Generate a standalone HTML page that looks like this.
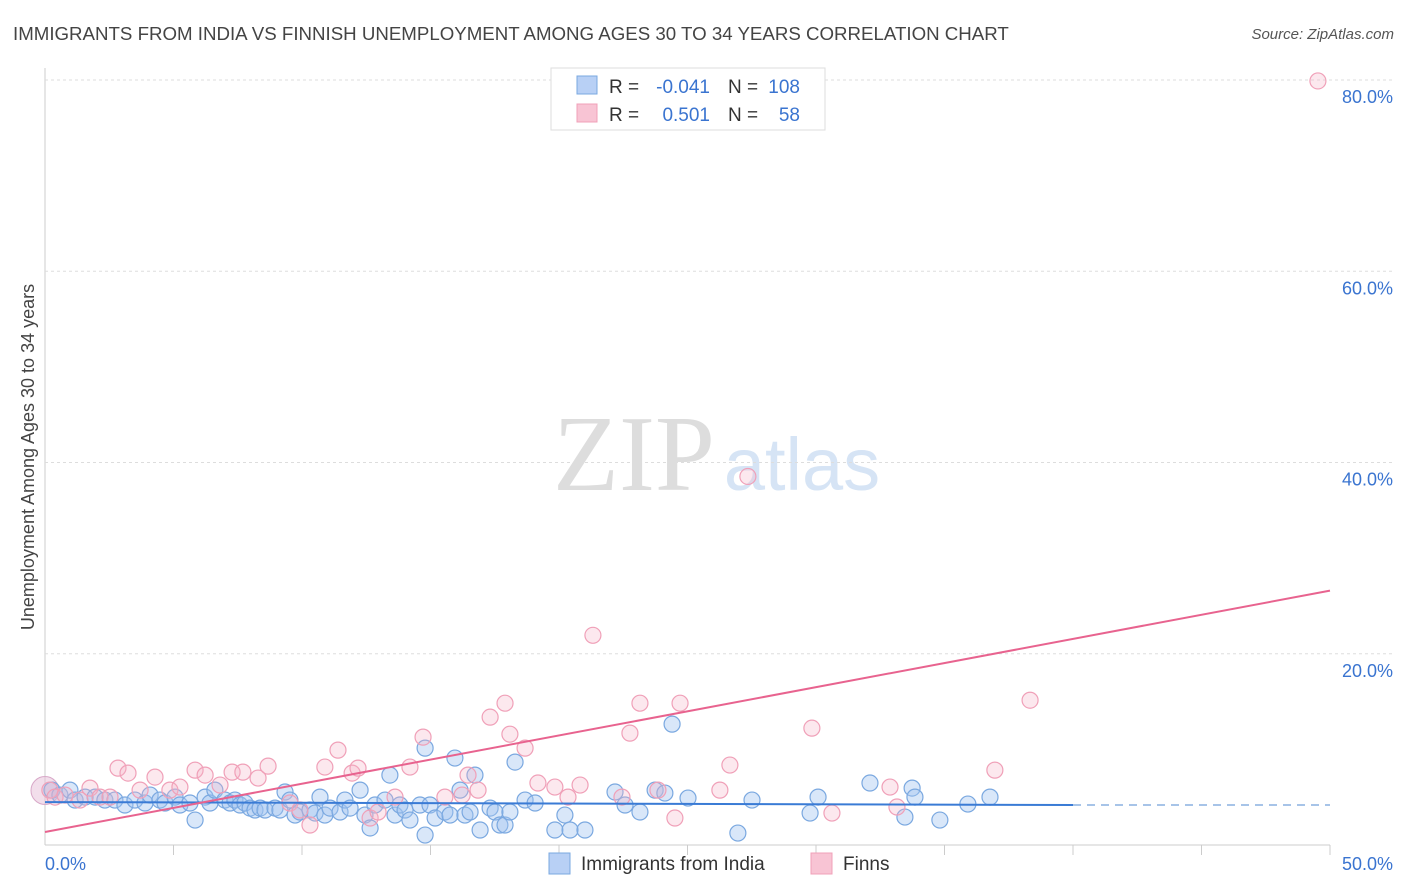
<!DOCTYPE html>
<html><head><meta charset="utf-8">
<style>
body{margin:0;background:#fff;font-family:"Liberation Sans",sans-serif;}
svg{display:block}
</style></head>
<body>
<svg id="chart" width="1406" height="892">
<text x="13" y="40" font-size="18.7" fill="#444">IMMIGRANTS FROM INDIA VS FINNISH UNEMPLOYMENT AMONG AGES 30 TO 34 YEARS CORRELATION CHART</text>
<text x="1394" y="39" font-size="15" fill="#555" font-style="italic" text-anchor="end">Source: ZipAtlas.com</text>
<text x="634" y="490" font-size="108" fill="#ddd" font-family="Liberation Serif,serif" text-anchor="middle">ZIP</text>
<text x="802" y="490" font-size="74" fill="#d6e4f5" text-anchor="middle">atlas</text>
<text transform="translate(34,457) rotate(-90)" font-size="18" fill="#444" text-anchor="middle">Unemployment Among Ages 30 to 34 years</text>
<g id="grid"></g>
<g id="marks"></g>
<g>
<rect x="551" y="68" width="274" height="62" fill="#fff" stroke="#ddd"/>
<rect x="577" y="76" width="20" height="18" fill="#b8d0f5" stroke="#7aa8e0"/>
<text x="609" y="93" font-size="19" fill="#333">R = </text><text x="710" y="93" font-size="19" fill="#3a74d0" text-anchor="end">-0.041</text>
<text x="728" y="93" font-size="19" fill="#333">N = </text><text x="800" y="93" font-size="19" fill="#3a74d0" text-anchor="end">108</text>
<rect x="577" y="104" width="20" height="18" fill="#f8c4d4" stroke="#f0a0b8"/>
<text x="609" y="121" font-size="19" fill="#333">R = </text><text x="710" y="121" font-size="19" fill="#3a74d0" text-anchor="end">0.501</text>
<text x="728" y="121" font-size="19" fill="#333">N = </text><text x="800" y="121" font-size="19" fill="#3a74d0" text-anchor="end">58</text>
</g>
<g>
<rect x="549" y="853" width="21" height="21" fill="#b8d0f5" stroke="#7aa8e0"/>
<text x="581" y="870" font-size="19" fill="#333">Immigrants from India</text>
<rect x="811" y="853" width="21" height="21" fill="#f8c4d4" stroke="#f0a0b8"/>
<text x="843" y="870" font-size="19" fill="#333">Finns</text>
</g>
</svg>
<script>
const xTicks=[0,5,10,15,20,25,30,35,40,45,50];
const yTicks=[20,40,60,80];
const yTickLabels=["20.0%","40.0%","60.0%","80.0%"];
const xEndLabels=["0.0%","50.0%"];
const indiaX=[0.27,0.58,0.97,1.17,1.56,1.95,2.33,2.72,3.11,3.50,3.89,4.09,4.47,4.67,5.06,5.25,5.64,5.84,6.23,6.42,6.61,7.00,7.20,7.39,7.59,7.78,7.98,8.17,8.37,8.56,8.95,9.14,9.34,9.53,9.73,9.92,10.31,10.51,10.70,10.89,11.09,11.48,11.67,11.87,12.26,12.45,12.65,12.84,13.23,13.42,13.62,13.81,14.01,14.20,14.59,14.79,14.79,14.98,15.18,15.56,15.76,15.95,16.15,16.34,16.54,16.73,16.93,17.32,17.51,17.70,17.90,18.09,18.29,18.68,19.07,19.84,20.23,20.43,21.01,22.18,22.57,23.15,23.74,24.12,24.40,25.02,26.96,27.51,29.77,30.08,32.10,33.46,33.74,33.85,34.82,35.91,36.77];
const indiaY=[5.74,5.22,5.74,4.70,5.01,5.01,4.70,4.70,4.18,4.70,4.39,5.22,4.70,4.39,5.01,4.18,4.39,2.61,5.01,4.39,5.74,4.70,4.39,4.70,4.18,4.39,3.86,3.66,3.86,3.66,3.86,3.66,5.54,4.70,3.13,3.45,3.66,3.34,5.01,3.13,3.86,3.45,4.70,3.86,5.74,3.13,1.78,4.18,4.70,7.31,3.13,4.18,3.66,2.61,4.18,1.04,10.13,4.18,2.82,3.45,3.13,9.09,5.74,3.13,3.45,7.31,1.57,3.86,3.45,2.09,2.09,3.45,8.67,4.70,4.39,1.57,3.13,1.57,1.57,5.54,4.18,3.45,5.74,5.43,12.64,4.91,1.25,4.70,3.34,5.01,6.48,2.92,5.95,5.01,2.61,4.28,5.01];
const finnsX=[0.19,0.39,0.78,1.36,1.75,2.14,2.53,2.84,3.23,3.70,4.28,4.86,5.25,5.84,6.23,6.81,7.28,7.70,8.29,8.68,9.53,9.92,10.31,10.89,11.40,11.95,12.18,12.65,12.96,13.62,14.20,14.71,15.56,16.23,16.46,16.85,17.32,17.90,18.09,18.68,19.18,19.84,20.35,20.82,21.32,22.45,22.76,23.15,23.85,24.71,24.51,26.26,26.65,27.35,29.84,30.62,32.88,33.15,36.96,38.33,49.53];
const finnsY=[5.74,5.01,5.22,4.70,5.95,5.01,5.01,8.04,7.52,5.74,7.10,5.74,6.06,7.83,7.31,6.27,7.62,7.62,7.00,8.25,4.39,3.66,2.09,8.15,9.92,7.52,8.04,2.82,3.45,5.01,8.15,11.28,5.01,5.22,7.31,5.74,13.37,14.83,11.59,10.13,6.48,6.06,5.01,6.27,21.93,5.01,11.70,14.83,5.74,14.83,2.82,5.74,8.36,38.54,12.22,3.34,6.06,3.97,7.83,15.14,79.90];
const indiaTrend=[[0,4.49],[40,4.18]];
const indiaTrendExt=[[40,4.18],[50,4.18]];
const finnsTrend=[[0,1.36],[50,26.6]];
const NS="http://www.w3.org/2000/svg";
const X0=45,X1=1330,Y0=845,Y80=80;
const sx=v=>X0+(X1-X0)*v/50;
const sy=v=>Y0-(Y0-Y80)*v/80;
function mk(tag,attrs,parent){const e=document.createElementNS(NS,tag);for(const k in attrs)e.setAttribute(k,attrs[k]);parent.appendChild(e);return e;}
const grid=document.getElementById('grid'),marks=document.getElementById('marks');
let ax=mk('line',{x1:X0,y1:68,x2:X0,y2:Y0,stroke:'#ccc'},grid);


let bx=mk('line',{x1:X0,y1:Y0,x2:X1,y2:Y0,stroke:'#ccc'},grid);


yTicks.forEach((t,i)=>{
 const g=mk('line',{x1:X0,y1:sy(t),x2:1395,y2:sy(t),stroke:'#ddd','stroke-dasharray':'3,3'},grid);
 
 
 const tx=mk('text',{x:1393,y:sy(t)+23,'font-size':18,fill:'#3a74d0','text-anchor':'end'},grid);
 tx.textContent=yTickLabels[i];
 
 
});
xTicks.forEach(t=>{
 if(t===0)return;
 const l=mk('line',{x1:sx(t),y1:Y0,x2:sx(t),y2:Y0+10,stroke:'#ccc'},grid);
 
 
});
[[0,45,'start'],[50,1393,'end']].forEach((d,i)=>{
 const tx=mk('text',{x:d[1],y:870,'font-size':18,fill:'#3a74d0','text-anchor':d[2]},grid);
 tx.textContent=xEndLabels[i];
 
 
});
const big=mk('circle',{cx:sx(0),cy:sy(5.7),r:14,fill:'rgba(230,190,215,0.5)',stroke:'#d8a8c8'},marks);


indiaX.forEach((x,i)=>{
 const c=mk('circle',{cx:sx(x),cy:sy(indiaY[i]),r:8,fill:'rgba(160,195,240,0.4)',stroke:'#7aa8e0','stroke-width':1.2},marks);
 
 
});
finnsX.forEach((x,i)=>{
 const c=mk('circle',{cx:sx(x),cy:sy(finnsY[i]),r:8,fill:'rgba(245,180,200,0.3)',stroke:'#f0a0b8','stroke-width':1.2},marks);
 
 
});
let t1=mk('line',{x1:sx(indiaTrend[0][0]),y1:sy(indiaTrend[0][1]),x2:sx(indiaTrend[1][0]),y2:sy(indiaTrend[1][1]),stroke:'#3a7bd5','stroke-width':2},marks);


let t2=mk('line',{x1:sx(indiaTrendExt[0][0]),y1:sy(indiaTrendExt[0][1]),x2:sx(indiaTrendExt[1][0]),y2:sy(indiaTrendExt[1][1]),stroke:'#8ab0e0','stroke-width':1.5,'stroke-dasharray':'8,6'},marks);


let t3=mk('line',{x1:sx(finnsTrend[0][0]),y1:sy(finnsTrend[0][1]),x2:sx(finnsTrend[1][0]),y2:sy(finnsTrend[1][1]),stroke:'#e8638f','stroke-width':2},marks);


</script>
</body></html>
